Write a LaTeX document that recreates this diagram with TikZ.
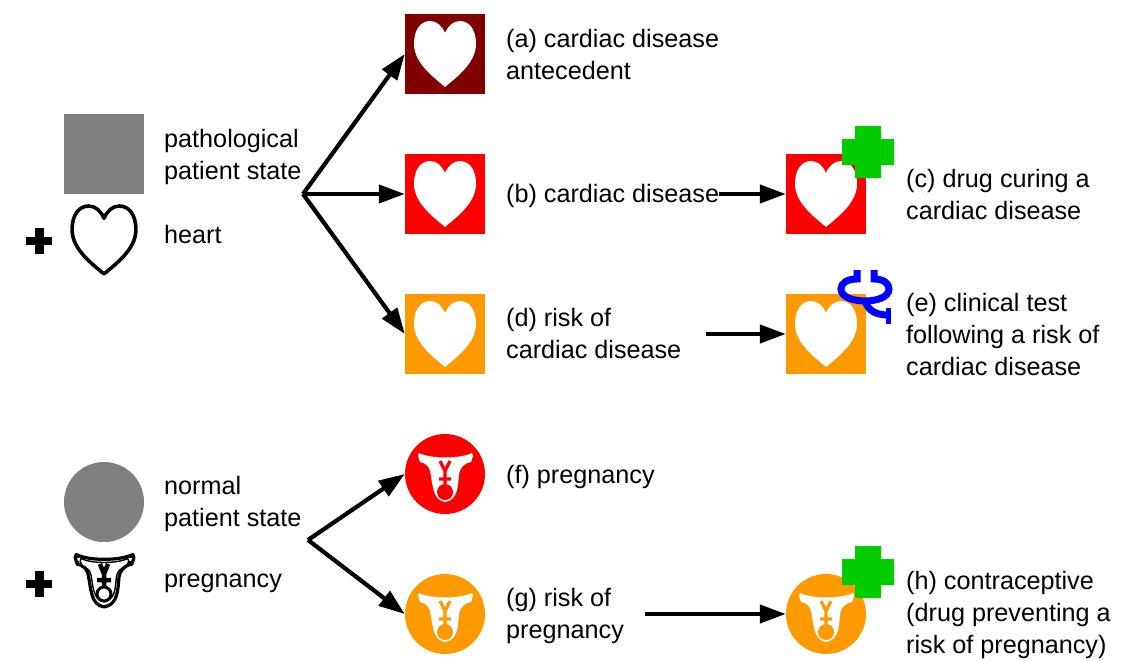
\documentclass[tikz,border=0pt]{standalone}
\usepackage{fontspec}
\setmainfont{Liberation Sans}
\usetikzlibrary{arrows.meta}

\definecolor{darkred}{HTML}{800000}
\definecolor{alarmred}{HTML}{FF0000}
\definecolor{riskorange}{HTML}{FF9900}
\definecolor{drugreen}{HTML}{00CC00}
\definecolor{testblue}{HTML}{0000FF}
\definecolor{stategray}{HTML}{808080}

\newcommand{\heartpath}{(0,33) .. controls (-9,25) and (-31,10) .. (-31,-10)
  .. controls (-31,-26) and (-23,-33) .. (-15,-33)
  .. controls (-8,-33) and (-3,-28) .. (0,-21)
  .. controls (3,-28) and (8,-33) .. (15,-33)
  .. controls (23,-33) and (31,-26) .. (31,-10)
  .. controls (31,10) and (9,25) .. (0,33) -- cycle}
\newcommand{\beltpath}{(-26,-21) .. controls (-14,-15) and (14,-15) .. (27,-21)
  -- (28,-18) -- (26,-12)
  .. controls (19,-11) and (15,-6) .. (14,0)
  .. controls (13,12) and (13,26) .. (0,28)
  .. controls (-13,26) and (-12,10) .. (-15,-3)
  .. controls (-16,-8) and (-20,-11) .. (-25,-12)
  -- (-27,-18) -- cycle}

\tikzset{
  label/.style={anchor=west, inner sep=0pt, align=left, font=\fontsize{25.2}{32}\selectfont},
  icon/.style={minimum size=80pt, inner sep=0pt, fill=#1},
  roundicon/.style={circle, minimum size=80pt, inner sep=0pt, fill=#1},
  conn/.style={-{Triangle[length=26pt,width=18pt]}, line width=4.2pt},
  plussign/.style={fill=black, minimum width=26pt, minimum height=8pt, inner sep=0pt},
  plussignup/.style={fill=black, minimum width=9pt, minimum height=26pt, inner sep=0pt},
  heartfill/.pic={\fill[white] \heartpath;},
  heartline/.pic={\draw[line width=3.6pt, line join=round, scale=1.03] \heartpath;},
  uterus/.pic={
    \fill[white] \beltpath;
    \draw[line width=3.2pt, #1] (-5,-13) -- (0,-3) -- (5,-13) (0,-3) -- (0,12) (-6,5) -- (6,5);
    \fill[#1] (0,18) circle (8);
  },
  uterusline/.pic={
    \draw[line width=3.2pt, line join=round, scale=1.07] \beltpath;
    \draw[line width=1.4pt, scale=0.88] \beltpath;
    \draw[line width=4.5pt] (-4,-13) -- (0,-3) -- (4,-13) (0,-3) -- (0,10) (-7,3) -- (7,3);
    \draw[line width=3pt] (0,17) circle (7);
    \draw[line width=3pt, dash pattern=on 3pt off 3pt] (-27,-22) -- (-26,-11) (27,-22) -- (26,-11);
  },
  drugcross/.pic={\fill[drugreen] (-13,-26) -| (13,-13) -| (26,13) -| (13,26) -| (-13,13) -| (-26,-13) -| cycle;},
  testring/.pic={
    \draw[testblue, line width=7pt] (-8,-18) -- (-8,-9) .. controls (-18,-9) and (-24,-5) .. (-24,1)
      .. controls (-24,9) and (-12,13) .. (0,13) .. controls (12,13) and (24,9) .. (24,1)
      .. controls (24,-5) and (18,-9) .. (9,-9) -- (9,-18);
    \draw[testblue, line width=7pt] (0,13) .. controls (3,22) and (10,27) .. (23,27);
    \draw[testblue, line width=5pt] (23,20) -- (23,36);
  },
}

\begin{document}
\begin{tikzpicture}[x=1pt, y=-1pt]
  \useasboundingbox (0,0) rectangle (1138,661);

  % left column
  \node[icon=stategray] (patho) at (104,154) {};
  \node[label] (pathotext) at (164,157) {pathological\\patient state};
  \node[plussign] (plusheart) at (39,241) {};
  \node[plussignup] (plusheartup) at (39,241) {};
  \pic at (104,240) {heartline};
  \node[label] (hearttext) at (164,234) {heart};

  \node[roundicon=stategray] (normal) at (104,502) {};
  \node[label] (normaltext) at (164,504) {normal\\patient state};
  \node[plussign] (pluspreg) at (39,584) {};
  \node[plussignup] (pluspregup) at (39,584) {};
  \pic at (104,577) {uterusline};
  \node[label] (pregtext) at (164,583) {pregnancy};

  % icons
  \node[icon=darkred] (antecedent) at (445,54) {};
  \node[icon=alarmred] (disease) at (445,194) {};
  \node[icon=riskorange] (risk) at (445,334) {};
  \node[icon=alarmred] (cure) at (826,194) {};
  \node[icon=riskorange] (followup) at (826,334) {};
  \node[roundicon=alarmred] (pregnant) at (445,474) {};
  \node[roundicon=riskorange] (pregrisk) at (445,614) {};
  \node[roundicon=riskorange] (contra) at (826,614) {};

  \foreach \n in {antecedent,disease,risk,cure,followup}
    \pic at (\n) {heartfill};
  \pic at (pregnant) {uterus=alarmred};
  \pic at (pregrisk) {uterus=riskorange};
  \pic at (contra) {uterus=riskorange};

  \pic at (868,152) {drugcross};
  \pic at (868,572) {drugcross};
  \pic at (865,288) {testring};

  % labels
  \node[label] (texta) at (506,54) {(a) cardiac disease\\antecedent};
  \node[label] (textb) at (506,196) {(b) cardiac disease};
  \node[label] (textc) at (906,194) {(c) drug curing a\\cardiac disease};
  \node[label] (textd) at (506,333) {(d) risk of\\cardiac disease};
  \node[label] (texte) at (906,334) {(e) clinical test\\following a risk of\\cardiac disease};
  \node[label] (textf) at (506,477) {(f) pregnancy};
  \node[label] (textg) at (506,616) {(g) risk of\\pregnancy};
  \node[label] (texth) at (906,615) {(h) contraceptive\\(drug preventing a\\risk of pregnancy)};

  % arrows
  \coordinate (heartfan) at (303,194);
  \coordinate (pregfan) at (308,540);
  \coordinate (riskstart) at (706,334);
  \coordinate (pregstart) at (645,614);
  \draw[conn] (heartfan) -- (antecedent.west);
  \draw[conn] (heartfan) -- (disease.west);
  \draw[conn] (heartfan) -- (risk.west);
  \draw[conn] (textb.east |- cure.west) -- (cure.west);
  \draw[conn] (riskstart) -- (followup.west);
  \draw[conn] (pregfan) -- (pregnant.west);
  \draw[conn] (pregfan) -- (pregrisk.west);
  \draw[conn] (pregstart) -- (contra.west);
\end{tikzpicture}
\end{document}
